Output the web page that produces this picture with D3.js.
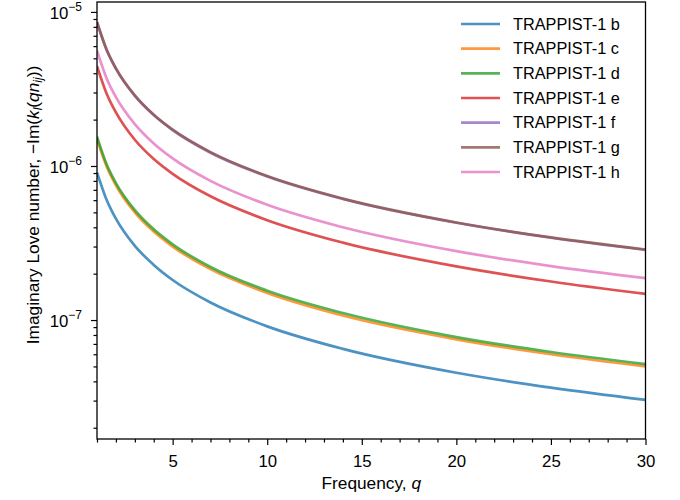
<!DOCTYPE html>
<html><head><meta charset="utf-8">
<script src="https://cdn.jsdelivr.net/npm/d3@7"></script>
<style>
body{margin:0;background:#fff}
svg text{font-family:"Liberation Sans",Arial,sans-serif;fill:#000}
</style>
</head><body>
<svg id="chart" width="680" height="500"></svg>
<script>
// ---- data ----
const frequency = [1, 1.5, 2, 3, 4, 5, 7, 10, 14, 20, 25, 30];
const planetNames = ["TRAPPIST-1 b","TRAPPIST-1 c","TRAPPIST-1 d","TRAPPIST-1 e","TRAPPIST-1 f","TRAPPIST-1 g","TRAPPIST-1 h"];
const loveB = [9.10e-7, 6.07e-7, 4.55e-7, 3.03e-7, 2.28e-7, 1.82e-7, 1.30e-7, 9.10e-8, 6.50e-8, 4.55e-8, 3.64e-8, 3.03e-8];
const loveC = [1.50e-6, 1.00e-6, 7.50e-7, 5.00e-7, 3.75e-7, 3.00e-7, 2.14e-7, 1.50e-7, 1.07e-7, 7.50e-8, 6.00e-8, 5.00e-8];
const loveD = [1.55e-6, 1.03e-6, 7.75e-7, 5.17e-7, 3.88e-7, 3.10e-7, 2.21e-7, 1.55e-7, 1.11e-7, 7.75e-8, 6.20e-8, 5.17e-8];
const loveE = [4.45e-6, 2.97e-6, 2.23e-6, 1.48e-6, 1.11e-6, 8.90e-7, 6.36e-7, 4.45e-7, 3.18e-7, 2.23e-7, 1.78e-7, 1.48e-7];
const loveF = [8.55e-6, 5.70e-6, 4.28e-6, 2.85e-6, 2.14e-6, 1.71e-6, 1.22e-6, 8.55e-7, 6.11e-7, 4.28e-7, 3.42e-7, 2.85e-7];
const loveG = [8.60e-6, 5.73e-6, 4.30e-6, 2.87e-6, 2.15e-6, 1.72e-6, 1.23e-6, 8.60e-7, 6.14e-7, 4.30e-7, 3.44e-7, 2.87e-7];
const loveH = [5.60e-6, 3.73e-6, 2.80e-6, 1.87e-6, 1.40e-6, 1.12e-6, 8.00e-7, 5.60e-7, 4.00e-7, 2.80e-7, 2.24e-7, 1.87e-7];
const seriesValues = [loveB, loveC, loveD, loveE, loveF, loveG, loveH];
const seriesColors = ["#1f77b4","#ff7f0e","#2ca02c","#d62728","#9467bd","#8c564b","#e377c2"];
const xMajorTicks = [5, 10, 15, 20, 25, 30];
const yMajorExponents = [-5, -6, -7];
const xDomain = [1, 30];
const yDomain = [1.69e-8, 1.16e-5];

// ---- layout ----
const svg = d3.select("#chart");
const L = 97, R = 645.5, T = 2, B = 439;

const x = d3.scaleLinear().domain(xDomain).range([L, R]);
const y = d3.scaleLog().domain(yDomain).range([B, T]);

svg.append("defs").append("clipPath").attr("id","plotclip")
  .append("rect").attr("x",L).attr("y",T).attr("width",R-L).attr("height",B-T);

// lines
const line = d3.line().x(d => x(d[0])).y(d => y(d[1])).curve(d3.curveMonotoneX);
const gLines = svg.append("g").attr("clip-path","url(#plotclip)");
seriesValues.forEach((vals, i) => {
  gLines.append("path")
    .attr("d", line(frequency.map((q, k) => [q, vals[k]])))
    .attr("fill","none").attr("stroke", seriesColors[i])
    .attr("stroke-width", 2.7).attr("stroke-opacity", 0.8);
});

// x axis
const xMinor = d3.range(1, 31).filter(v => !xMajorTicks.includes(v));
const xAxisMajor = d3.axisBottom(x).tickValues(xMajorTicks).tickSize(6).tickFormat(d3.format("d"));
const xAxisMinor = d3.axisBottom(x).tickValues(xMinor).tickSize(3.5).tickFormat("");
const gxm = svg.append("g").attr("transform",`translate(0,${B})`).call(xAxisMinor);
const gx = svg.append("g").attr("transform",`translate(0,${B})`).call(xAxisMajor);
[gx, gxm].forEach(g => {
  g.select(".domain").remove();
  g.selectAll("line").attr("stroke","#000").attr("stroke-width",1.2);
});
gx.selectAll("text").attr("font-size","16.8px").attr("fill","#000")
  .attr("font-family",'"Liberation Sans",Arial,sans-serif')
  .attr("y", 27.5).attr("dy", 0);

// y axis
const yMinor = [];
for (let e = -8; e <= -5; e++) for (let m = 2; m <= 9; m++) {
  const v = m * Math.pow(10, e);
  if (v >= yDomain[0] && v <= yDomain[1]) yMinor.push(v);
}
const yMajor = yMajorExponents.map(e => Math.pow(10, e));
const yAxisMinor = d3.axisLeft(y).tickValues(yMinor).tickSize(3.5).tickFormat("");
const yAxisMajor = d3.axisLeft(y).tickValues(yMajor).tickSize(6).tickFormat("");
const gym = svg.append("g").attr("transform",`translate(${L},0)`).call(yAxisMinor);
const gy = svg.append("g").attr("transform",`translate(${L},0)`).call(yAxisMajor);
[gy, gym].forEach(g => {
  g.select(".domain").remove();
  g.selectAll("line").attr("stroke","#000").attr("stroke-width",1.2);
});
yMajorExponents.forEach(e => {
  const t = svg.append("text").attr("x", 82).attr("y", y(Math.pow(10, e)) + 7)
    .attr("text-anchor","end").attr("font-size","16.8px");
  t.append("tspan").text("10");
  t.append("tspan").attr("dy", -8).attr("font-size","12px").text("\u2212" + Math.abs(e));
});

// frame
svg.append("rect").attr("x",L).attr("y",T).attr("width",R-L).attr("height",B-T)
  .attr("fill","none").attr("stroke","#000").attr("stroke-width",1.3);

// axis labels
const xl = svg.append("text").attr("x",(L+R)/2).attr("y",489).attr("text-anchor","middle").attr("font-size","17.3px");
xl.append("tspan").text("Frequency, ");
xl.append("tspan").attr("font-style","italic").text("q");

const yl = svg.append("text").attr("transform","translate(39,205) rotate(-90)")
  .attr("text-anchor","middle").attr("font-size","17.3px");
yl.append("tspan").text("Imaginary Love number, \u2212Im(");
yl.append("tspan").attr("font-style","italic").text("k");
yl.append("tspan").attr("font-style","italic").attr("font-size","12px").attr("dy",3).text("l");
yl.append("tspan").attr("dy",-3).text("(");
yl.append("tspan").attr("font-style","italic").text("qn");
yl.append("tspan").attr("font-style","italic").attr("font-size","12px").attr("dy",3).text("ij");
yl.append("tspan").attr("dy",-3).text("))");

// legend
const legend = svg.append("g");
planetNames.forEach((name, i) => {
  const cy = 24 + i * 24.67;
  legend.append("line").attr("x1",461).attr("x2",500).attr("y1",cy).attr("y2",cy)
    .attr("stroke", seriesColors[i]).attr("stroke-width",2.7).attr("stroke-opacity",0.8);
  legend.append("text").attr("x",513).attr("y",cy+5.5).attr("font-size","16.3px").text(name);
});
</script>
</body></html>
